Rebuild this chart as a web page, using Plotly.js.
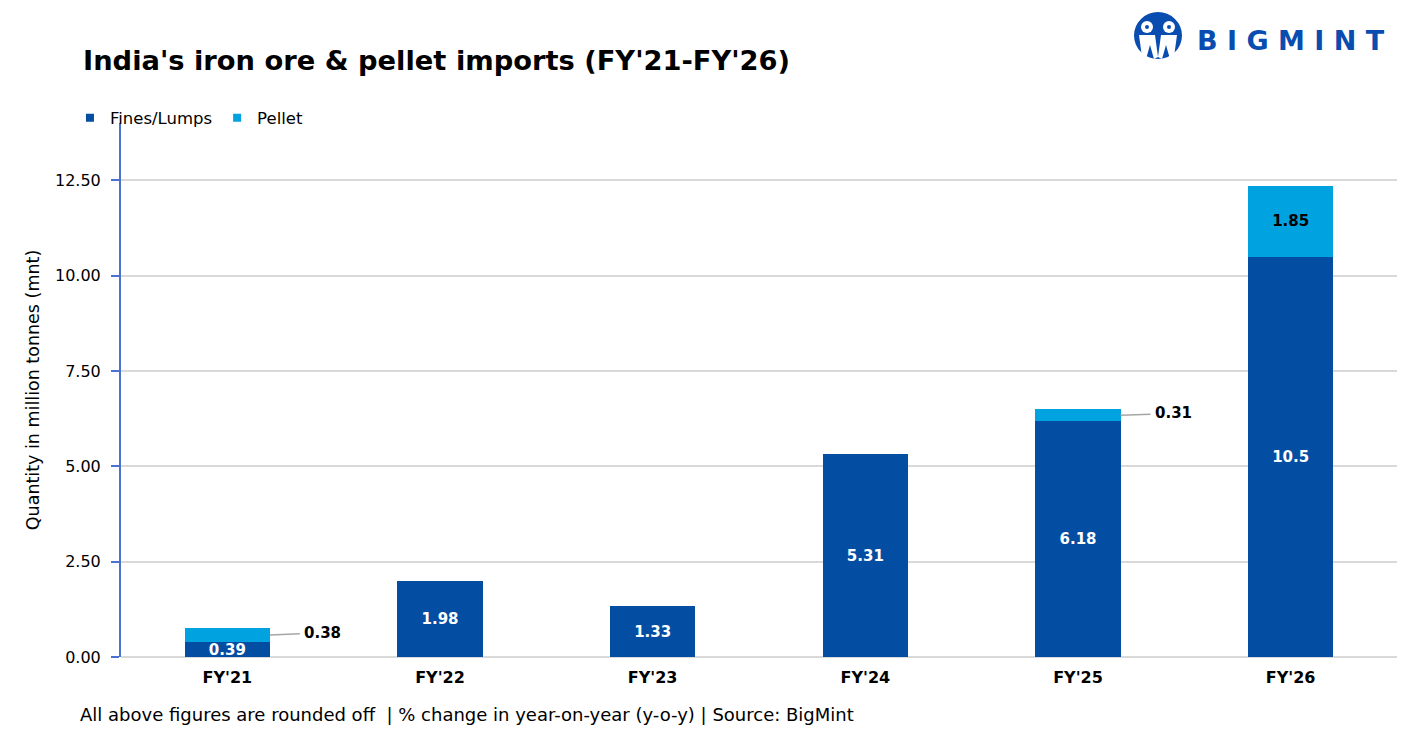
<!DOCTYPE html>
<html>
<head>
<meta charset="utf-8">
<script src="https://cdn.plot.ly/plotly-3.0.1.min.js"></script>
<style>
html,body{margin:0;padding:0;background:#fff;}
#chart{width:1421px;height:744px;}
</style>
</head>
<body>
<div id="chart"></div>
<script>
var categories = ["FY'21", "FY'22", "FY'23", "FY'24", "FY'25", "FY'26"];
var finesLumps = [0.39, 1.98, 1.33, 5.31, 6.18, 10.5];
var pellet = [0.38, 0, 0, 0, 0.31, 1.85];
var yTickVals = [0, 2.5, 5, 7.5, 10, 12.5];
var seriesNames = ['Fines/Lumps', 'Pellet'];

var DARK = '#034EA2';
var LIGHT = '#00A2E0';
var FONT = 'DejaVu Sans, Verdana, sans-serif';

var pelletInside = pellet.map(function(v){ return v >= 1 ? String(v) : ''; });

var traces = [
  {
    type: 'bar', name: seriesNames[0], x: categories, y: finesLumps,
    marker: {color: DARK}, width: 0.4, showlegend: false,
    text: finesLumps.map(String), textposition: 'inside', insidetextanchor: 'middle',
    constraintext: 'none',
    textfont: {family: FONT, size: 15, color: '#ffffff', weight: 'bold'},
    hoverinfo: 'x+y'
  },
  {
    type: 'bar', name: seriesNames[1], x: categories, y: pellet,
    marker: {color: LIGHT}, width: 0.4, showlegend: false,
    text: pelletInside, textposition: 'inside', insidetextanchor: 'middle',
    constraintext: 'none',
    textfont: {family: FONT, size: 15, color: '#000000', weight: 'bold'},
    hoverinfo: 'x+y'
  },
  {type: 'scatter', mode: 'markers', name: seriesNames[0], x: [null], y: [null],
   marker: {symbol: 'square', size: 8, color: DARK}, showlegend: true},
  {type: 'scatter', mode: 'markers', name: seriesNames[1], x: [null], y: [null],
   marker: {symbol: 'square', size: 8, color: LIGHT}, showlegend: true}
];

var annotations = [];
pellet.forEach(function(v, i){
  if (v > 0 && v < 1) {
    annotations.push({
      x: i + 0.2, y: finesLumps[i] + v / 2, xref: 'x', yref: 'y',
      text: '<b>' + v + '</b>', showarrow: true, arrowhead: 0, arrowwidth: 1.5,
      arrowcolor: '#a6a6a6', ax: 53, ay: -2, standoff: 0, startstandoff: 3,
      font: {family: FONT, size: 15, color: '#000'}, xanchor: 'center'
    });
  }
});

annotations.push({
  xref: 'paper', yref: 'paper', x: -0.031, y: 1.0, xanchor: 'left', yanchor: 'middle',
  yshift: 63, text: "<b>India's iron ore &amp; pellet imports (FY'21-FY'26)</b>",
  showarrow: false, font: {family: FONT, size: 27.3, color: '#000'}
});
annotations.push({
  xref: 'paper', yref: 'paper', x: -0.034, y: 0, xanchor: 'left', yanchor: 'middle',
  yshift: -57, text: 'All above figures are rounded off  | % change in year-on-year (y-o-y) | Source: BigMint',
  showarrow: false, font: {family: FONT, size: 18, color: '#000'}
});
annotations.push({
  xref: 'paper', yref: 'paper', x: 1.0, y: 1.0, xanchor: 'right', yanchor: 'middle',
  xshift: -10, yshift: 83, text: '<b>B I G M I N T</b>',
  showarrow: false, font: {family: FONT, size: 27, color: '#0A4DB0'}
});

var shapes = [
  {type: 'circle', xref: 'paper', yref: 'paper', xsizemode: 'pixel', ysizemode: 'pixel',
   xanchor: 1.0, yanchor: 1.0, x0: -263, x1: -215, y0: 64, y1: 111,
   fillcolor: '#0A4DB0', line: {width: 0}},
  {type: 'circle', xref: 'paper', yref: 'paper', xsizemode: 'pixel', ysizemode: 'pixel',
   xanchor: 1.0, yanchor: 1.0, x0: -256, x1: -244, y0: 90, y1: 102,
   fillcolor: '#ffffff', line: {width: 0}},
  {type: 'circle', xref: 'paper', yref: 'paper', xsizemode: 'pixel', ysizemode: 'pixel',
   xanchor: 1.0, yanchor: 1.0, x0: -234, x1: -222, y0: 90, y1: 102,
   fillcolor: '#ffffff', line: {width: 0}},
  {type: 'circle', xref: 'paper', yref: 'paper', xsizemode: 'pixel', ysizemode: 'pixel',
   xanchor: 1.0, yanchor: 1.0, x0: -252, x1: -248, y0: 94, y1: 98,
   fillcolor: '#0A4DB0', line: {width: 0}},
  {type: 'circle', xref: 'paper', yref: 'paper', xsizemode: 'pixel', ysizemode: 'pixel',
   xanchor: 1.0, yanchor: 1.0, x0: -230, x1: -226, y0: 94, y1: 98,
   fillcolor: '#0A4DB0', line: {width: 0}},
  {type: 'path', xref: 'paper', yref: 'paper', xsizemode: 'pixel', ysizemode: 'pixel',
   xanchor: 1.0, yanchor: 1.0,
   path: 'M -258 88 L -242 88 L -239 66 L -243 64 L -247 78 L -251 64 L -255 66 Z',
   fillcolor: '#ffffff', line: {width: 0}},
  {type: 'path', xref: 'paper', yref: 'paper', xsizemode: 'pixel', ysizemode: 'pixel',
   xanchor: 1.0, yanchor: 1.0,
   path: 'M -236 88 L -220 88 L -223 66 L -227 64 L -231 78 L -235 64 L -239 66 Z',
   fillcolor: '#ffffff', line: {width: 0}}
];

var layout = {
  width: 1421, height: 744,
  margin: {l: 121, r: 24, t: 123, b: 87},
  paper_bgcolor: '#ffffff', plot_bgcolor: '#ffffff',
  barmode: 'stack', bargap: 0.6,
  font: {family: FONT, size: 16, color: '#000'},
  showlegend: true,
  legend: {orientation: 'h', x: -0.04, y: 1.0094, xanchor: 'left', yanchor: 'middle',
           bgcolor: 'rgba(0,0,0,0)',
           font: {family: FONT, size: 16.5, color: '#000'}, traceorder: 'normal',
           itemclick: false, itemwidth: 30},
  xaxis: {
    type: 'category', showgrid: false, showline: false, zeroline: false,
    tickfont: {family: FONT, size: 16, color: '#000', weight: 'bold'}, ticks: '',
    ticklabelstandoff: 9
  },
  yaxis: {
    range: [0, 14], tickvals: yTickVals, tickformat: '.2f',
    showgrid: true, gridcolor: '#d9d9d9', gridwidth: 2,
    zeroline: true, zerolinecolor: '#d9d9d9', zerolinewidth: 2,
    showline: true, linecolor: '#4A72D0', linewidth: 2,
    ticks: 'outside', ticklen: 8, tickcolor: '#4A72D0', tickwidth: 2,
    ticklabelstandoff: 7,
    tickfont: {family: FONT, size: 16, color: '#000'},
    title: {text: 'Quantity in million tonnes (mnt)', font: {family: FONT, size: 17.5, color: '#000'}, standoff: 11}
  },
  annotations: annotations,
  shapes: shapes
};

Plotly.newPlot('chart', traces, layout, {displayModeBar: false, staticPlot: true});
</script>
</body>
</html>
